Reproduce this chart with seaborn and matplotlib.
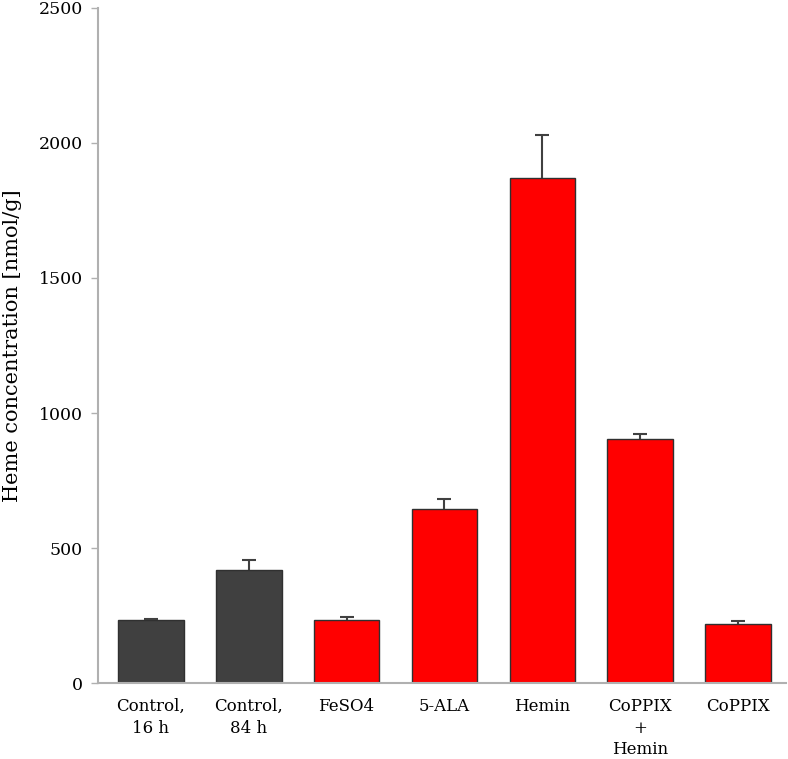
import pandas as pd
import matplotlib
matplotlib.use('Agg')
import matplotlib.pyplot as plt
import seaborn as sns

# values
groups = ['Control,\n16 h', 'Control,\n84 h', 'FeSO4', '5-ALA', 'Hemin',
          'CoPPIX\n+\nHemin', 'CoPPIX']
heme = [232, 417, 235, 643, 1870, 904, 217]
err = [6, 37, 10, 39, 160, 19, 13]
kind = ['control', 'control', 'treat', 'treat', 'treat', 'treat', 'treat']
colors = {'control': '#404040', 'treat': '#ff0000'}

df = pd.DataFrame({'group': groups, 'heme': heme, 'err': err, 'kind': kind})

sns.set_theme(style='white')
plt.rcParams['font.family'] = ['DejaVu Serif']

fig = plt.figure(figsize=(7.88, 7.59), dpi=100)
ax = fig.add_axes([0.1244, 0.1001, 0.873, 0.8894])

sns.barplot(data=df, x='group', y='heme', hue='kind', palette=colors,
            saturation=1, dodge=False, legend=False, width=0.67,
            edgecolor='#303030', linewidth=1.0, ax=ax)

# upper-only error bars
_, caps, _ = ax.errorbar(range(len(groups)), heme, yerr=[[0] * len(err), err],
                         fmt='none', ecolor='#404040', elinewidth=1.5,
                         capsize=5, capthick=1.5, zorder=3)
caps[0].set_visible(False)

ax.set_ylim(0, 2500)
ax.set_xlim(-0.54, 6.49)
ax.set_yticks([0, 500, 1000, 1500, 2000, 2500])
ax.set_xlabel('')
ax.set_ylabel('Heme concentration [nmol/g]', fontsize=15, labelpad=12,
              color='black')

for side in ['top', 'right']:
    ax.spines[side].set_visible(False)
for side in ['left', 'bottom']:
    ax.spines[side].set_color('#b0b0b0')
    ax.spines[side].set_linewidth(1.5)

ax.tick_params(axis='y', left=True, length=5, width=1, color='#b0b0b0',
               labelsize=12.5, labelcolor='black', pad=6)
ax.tick_params(axis='x', bottom=False, labelsize=12, labelcolor='black', pad=5)
for lbl in ax.get_xticklabels():
    lbl.set_multialignment('center')
    lbl.set_linespacing(1.35)

fig.savefig('out.png', dpi=100)
